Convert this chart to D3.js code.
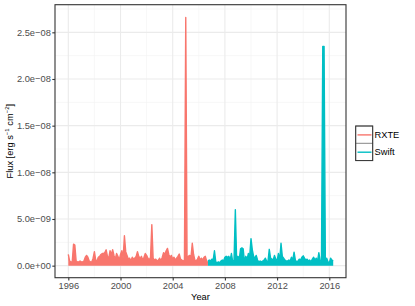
<!DOCTYPE html>
<html><head><meta charset="utf-8">
<script src="https://cdn.jsdelivr.net/npm/d3@7"></script>
<style>body{margin:0;background:#fff}svg{display:block}text{font-family:"Liberation Sans",Arial,sans-serif}</style>
</head><body><div id="chart"></div>
<script>
// Data (flux in units of 1e-9 erg s^-1 cm^-2), sampled every 0.1 yr
const seriesNames = ["RXTE", "Swift"];
const seriesColors = ["#F8766D", "#00BFC4"];
const rxteStart = 1996.0;
const rxteFlux = [1.2,0.5,0.4,0.4,2.3,2.2,0.5,0.4,0.4,0.5,
  0.4,0.4,0.5,0.9,1.1,0.9,0.5,0.4,0.4,0.8,
  1.5,0.6,0.5,0.9,1.0,1.2,1.3,1.3,1.4,1.7,
  1.0,0.8,1.6,1.2,1.7,1.1,0.7,1.3,1.0,0.6,
  1.2,1.6,0.8,3.2,1.5,1.1,0.7,0.8,0.5,0.9,
  0.7,0.8,1.0,1.5,1.0,0.7,1.0,0.6,0.9,1.3,
  1.1,0.8,0.6,0.9,4.4,0.8,0.6,0.7,0.5,0.6,
  0.8,0.5,0.9,1.4,1.2,1.6,1.85,1.2,0.9,1.1,
  0.7,0.9,0.6,0.8,1.0,1.25,0.7,0.6,0.5,0.6,
  26.6,0.8,1.0,1.1,0.9,2.4,1.2,0.6,0.5,0.7,
  1.0,0.6,0.8,0.6,0.9,1.0,0.5,0.3];
const swiftStart = 2006.7;
const swiftFlux = [0.5,0.6,0.5,0.7,0.6,1.6,0.4,0.3,0.4,0.3,
  0.5,0.6,0.5,0.9,1.0,0.9,1.0,0.6,1.3,0.4,
  0.6,6.0,0.6,1.0,0.7,1.8,1.9,1.8,0.4,1.0,
  0.7,1.3,1.0,2.9,1.7,1.0,0.8,1.1,0.6,0.4,
  0.5,0.4,0.5,0.6,0.8,0.5,0.4,1.75,0.8,0.7,
  0.6,1.1,0.7,0.5,1.3,0.6,2.4,1.0,0.8,0.6,
  0.5,0.5,0.6,0.5,0.9,0.6,1.45,0.6,0.4,0.5,
  0.7,0.6,0.9,1.05,0.8,0.6,0.7,0.5,0.6,0.4,
  0.7,0.9,0.6,0.8,0.5,1.4,0.5,0.4,23.5,23.5,
  0.3,0.8,0.4,0.3,0.8,0.6,0.5];
const step = 0.1;
const xTicks = [1996, 2000, 2004, 2008, 2012, 2016];
const xMinor = [1998, 2002, 2006, 2010, 2014];
const yTicks = [0, 5e-9, 1e-8, 1.5e-8, 2e-8, 2.5e-8];
const yTickLabels = ["0.0e+00", "5.0e\u221209", "1.0e\u221208", "1.5e\u221208", "2.0e\u221208", "2.5e\u221208"];
const yMinor = [2.5e-9, 7.5e-9, 1.25e-8, 1.75e-8, 2.25e-8, 2.75e-8];

const W = 415, H = 306;
const P = {l: 55, r: 346, t: 4.7, b: 277.7};
const svg = d3.select("#chart").append("svg").attr("width", W).attr("height", H);

const x = d3.scaleLinear().domain([1994.98, 2017.28]).range([P.l, P.r]);
const y = d3.scaleLinear().domain([-1.29e-9, 2.796e-8]).range([P.b, P.t]);

const toPts = (start, arr) => arr.map((v, i) => ({t: start + i * step, v: v * 1e-9}));
const series = [toPts(rxteStart, rxteFlux), toPts(swiftStart, swiftFlux)];

const clip = svg.append("clipPath").attr("id", "clip").append("rect")
  .attr("x", P.l).attr("y", P.t).attr("width", P.r - P.l).attr("height", P.b - P.t);

// grid
const g = svg.append("g");
g.selectAll(".ymin").data(yMinor.filter(d => y(d) > P.t)).join("line")
  .attr("x1", P.l).attr("x2", P.r).attr("y1", d => y(d)).attr("y2", d => y(d))
  .attr("stroke", "#F2F2F2").attr("stroke-width", 0.6);
g.selectAll(".xmin").data(xMinor).join("line")
  .attr("y1", P.t).attr("y2", P.b).attr("x1", d => x(d)).attr("x2", d => x(d))
  .attr("stroke", "#F2F2F2").attr("stroke-width", 0.6);
g.selectAll(".ymaj").data(yTicks).join("line")
  .attr("x1", P.l).attr("x2", P.r).attr("y1", d => y(d)).attr("y2", d => y(d))
  .attr("stroke", "#EBEBEB").attr("stroke-width", 1.1);
g.selectAll(".xmaj").data(xTicks).join("line")
  .attr("y1", P.t).attr("y2", P.b).attr("x1", d => x(d)).attr("x2", d => x(d))
  .attr("stroke", "#EBEBEB").attr("stroke-width", 1.1);

// data
const area = d3.area().x(d => x(d.t)).y0(y(0)).y1(d => y(d.v));
const line = d3.line().x(d => x(d.t)).y(d => y(d.v));
const dg = svg.append("g").attr("clip-path", "url(#clip)");
series.forEach((s, i) => {
  dg.append("path").datum(s).attr("d", area).attr("fill", seriesColors[i]).attr("stroke", "none");
  dg.append("path").datum(s).attr("d", line).attr("fill", "none")
    .attr("stroke", seriesColors[i]).attr("stroke-width", 1.4).attr("stroke-linejoin", "round");
});

// border
svg.append("rect").attr("x", P.l).attr("y", P.t).attr("width", P.r - P.l).attr("height", P.b - P.t)
  .attr("fill", "none").attr("stroke", "#333333").attr("stroke-width", 1.1);

// axes
const xAxis = svg.append("g").attr("transform", `translate(0,${P.b})`)
  .call(d3.axisBottom(x).tickValues(xTicks).tickFormat(d3.format("d")).tickSize(2.7).tickPadding(2));
const yAxis = svg.append("g").attr("transform", `translate(${P.l},0)`)
  .call(d3.axisLeft(y).tickValues(yTicks).tickFormat((d, i) => yTickLabels[i]).tickSize(2.7).tickPadding(1.5));
[xAxis, yAxis].forEach(a => {
  a.select(".domain").remove();
  a.selectAll(".tick line").attr("stroke", "#333333").attr("stroke-width", 1.1);
  a.selectAll(".tick text").attr("fill", "#4D4D4D").style("font-size", "9.3px")
    .style("font-family", '"Liberation Sans", Arial, sans-serif');
});

svg.append("text").attr("x", (P.l + P.r) / 2).attr("y", 299.5).attr("text-anchor", "middle")
  .attr("fill", "#000").style("font-size", "9.3px").text("Year");
svg.append("text").attr("transform", `translate(12.5,${(P.t + P.b) / 2}) rotate(-90)`)
  .attr("text-anchor", "middle").attr("fill", "#000").style("font-size", "9.3px")
  .html('Flux [erg s<tspan dy="-3.5" font-size="6px">\u22121</tspan><tspan dy="3.5"> cm</tspan><tspan dy="-3.5" font-size="6px">\u22122</tspan><tspan dy="3.5">]</tspan>');

// legend
const lg = svg.append("g");
seriesNames.forEach((n, i) => {
  const ky = 126 + i * 17.3;
  lg.append("rect").attr("x", 355.7).attr("y", ky).attr("width", 17).attr("height", 17.3)
    .attr("fill", "#fff").attr("stroke", "#808080").attr("stroke-width", 0.8);
  lg.append("line").attr("x1", 357.5).attr("x2", 371.5).attr("y1", ky + 8.9).attr("y2", ky + 8.9)
    .attr("stroke", seriesColors[i]).attr("stroke-width", 1.4);
  lg.append("text").attr("x", 374.5).attr("y", ky + 8.9).attr("dy", "0.35em")
    .attr("fill", "#000").style("font-size", "9.3px").text(n);
});
lg.append("rect").attr("x", 355.7).attr("y", 126).attr("width", 17).attr("height", 34.6)
  .attr("fill", "none").attr("stroke", "#333").attr("stroke-width", 1);
</script></body></html>
